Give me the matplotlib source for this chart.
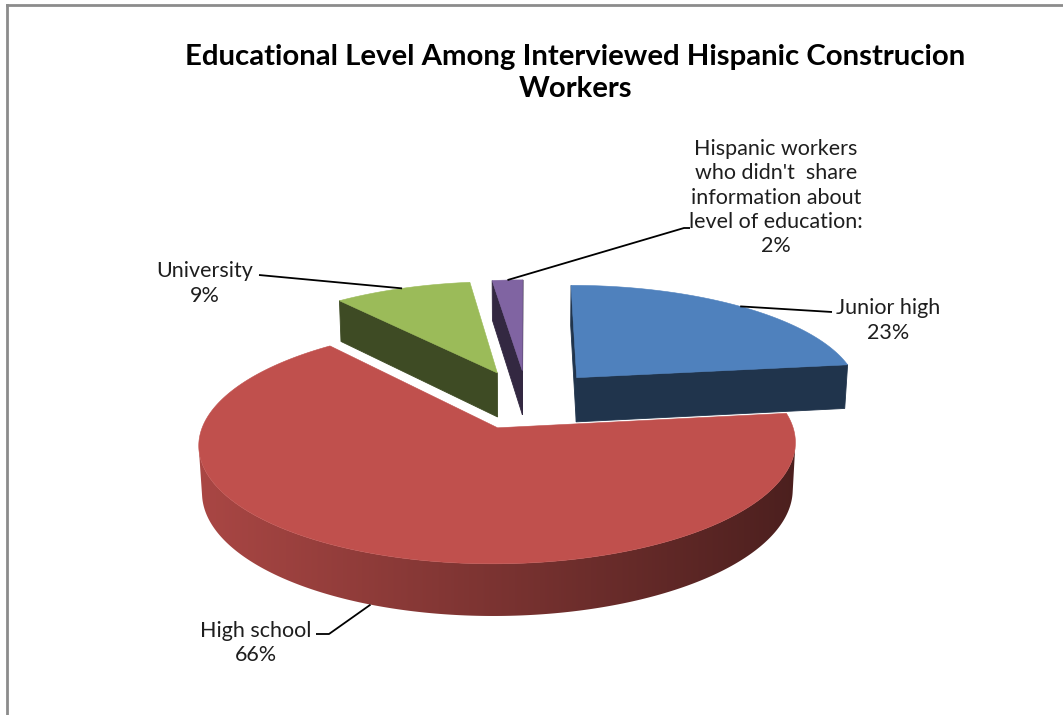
import numpy as np
import matplotlib
matplotlib.use("Agg")
import matplotlib.pyplot as plt
from matplotlib.patches import Polygon

# ---------------- data ----------------
title = "Educational Level Among Interviewed Hispanic Construcion\nWorkers"
categories = ["Junior high", "High school", "University",
              "Hispanic workers\nwho didn't  share\ninformation about\nlevel of education:"]
values = [23, 66, 9, 2]
pct_labels = ["23%", "66%", "9%", "2%"]
colors = ["#4F81BD", "#C0504D", "#9BBB59", "#8064A2"]

# ---------------- 3D view parameters (pixel space) ----------------
W, H = 1063, 715
D = 7.0                      # camera distance (pie radius = 1)
phi = np.radians(22.6)       # elevation
F = 2000.0                   # focal length in px
CX, CY = 527.0, 399.3        # screen position of pie centre
EXPLODE = 0.27
HEIGHT = 0.173
c_, s_ = np.cos(phi), np.sin(phi)
CAM = np.array([0.0, D * s_, D * c_])


def proj(X, Y, Z):
    depth = D - (Z * c_ + Y * s_)
    up = Y * c_ - Z * s_
    return CX + F * X / depth, CY - F * up / depth


def shade(col, k):
    r, g, b = matplotlib.colors.to_rgb(col)
    return (r * k, g * k, b * k)


def wall_k(sx):
    return np.clip(0.875 - (sx - 210) * 0.00082, 0.35, 0.9)


fig = plt.figure(figsize=(W / 100, H / 100), dpi=100)
ax = fig.add_axes([0, 0, 1, 1])
ax.set_xlim(0, W)
ax.set_ylim(H, 0)
ax.axis("off")

total = float(sum(values))
fracs = [v / total for v in values]
starts = np.cumsum([0] + fracs[:-1]) * 2 * np.pi
ends = starts + np.array(fracs) * 2 * np.pi

items = []   # (distance, kind, polygon pts, color)
tops = []
anchors = []
for i, (a0, a1) in enumerate(zip(starts, ends)):
    m = 0.5 * (a0 + a1)
    ox, oz = EXPLODE * np.sin(m), -EXPLODE * np.cos(m)
    th = np.linspace(a0, a1, max(4, int((a1 - a0) / 0.005)))
    rx = ox + np.sin(th)
    rz = oz - np.cos(th)
    # top face
    pts = [proj(ox, 0, oz)] + [proj(x, 0, z) for x, z in zip(rx, rz)]
    dist = np.linalg.norm(CAM - np.array([ox, 0, oz]))
    tops.append((dist, pts, colors[i]))
    # outer wall: visible part as one polygon with gradient
    vis = []
    for j in range(len(th)):
        p = np.array([rx[j], -HEIGHT / 2, rz[j]])
        nrm = np.array([np.sin(th[j]), 0, -np.cos(th[j])])
        vis.append(np.dot(nrm, CAM - p) > 0)
    idx = [j for j, v in enumerate(vis) if v]
    if len(idx) > 1:
        topp = [proj(rx[j], 0, rz[j]) for j in idx]
        botp = [proj(rx[j], -HEIGHT, rz[j]) for j in idx][::-1]
        jm = idx[len(idx) // 2]
        pm = np.array([rx[jm], -HEIGHT / 2, rz[jm]])
        items.append((np.linalg.norm(CAM - pm), "grad", topp + botp, colors[i]))
    # radial walls
    for a, sgn in ((a0, -1), (a1, 1)):
        nrm = sgn * np.array([np.cos(a), 0, np.sin(a)])
        ex, ez = ox + np.sin(a), oz - np.cos(a)
        pm = np.array([(ox + ex) / 2, -HEIGHT / 2, (oz + ez) / 2])
        if np.dot(nrm, CAM - pm) <= 0:
            continue
        q = [proj(ox, 0, oz), proj(ex, 0, ez), proj(ex, -HEIGHT, ez), proj(ox, -HEIGHT, oz)]
        items.append((np.linalg.norm(CAM - pm), "flat", q, shade(colors[i], 0.40)))
    # label anchor at rim of mid-angle
    rr = 1.0 + EXPLODE
    ax_, az_ = rr * np.sin(m), -rr * np.cos(m)
    yy = -HEIGHT if np.cos(m) < -0.5 else 0.0
    anchors.append(proj(ax_, yy, az_))

xs_cols = np.arange(W) + 0.5
for d, kind, q, col in sorted(items, key=lambda t: -t[0]):
    if kind == "flat":
        ax.add_patch(Polygon(q, closed=True, facecolor=col, edgecolor=col, lw=0.6))
    else:
        patch = Polygon(q, closed=True, facecolor="none", edgecolor="none")
        ax.add_patch(patch)
        grad = np.array([[shade(col, wall_k(x)) for x in xs_cols]])
        im = ax.imshow(grad, extent=(0, W, H, 0), origin="upper", aspect="auto",
                       interpolation="bilinear", zorder=1)
        im.set_clip_path(patch)
for d, q, col in sorted(tops, key=lambda t: -t[0]):
    ax.add_patch(Polygon(q, closed=True, facecolor=col, edgecolor=col, lw=0.4, zorder=2))

ax.set_xlim(0, W)
ax.set_ylim(H, 0)

# ---------------- text ----------------
FONT = "Lato"
TXT = "#1e1e1e"
ax.text(575.5, 73, title, ha="center", va="center", fontsize=21.2,
        fontweight="bold", family=FONT, color="#000000", linespacing=1.25, zorder=5)

label_pos = [(888.5, 320.5), (255.5, 643), (205, 283.5), (776, 197.5)]
for i, (x, y) in enumerate(label_pos):
    ax.text(x, y, categories[i] + "\n" + pct_labels[i], ha="center", va="center",
            fontsize=15.5, family=FONT, color=TXT, linespacing=1.26, zorder=5)

# leader lines (label side points, then anchor on slice)
leader_start = [[(832, 312)], [(316, 634), (329, 634)], [(259, 275)], [(690, 228), (684, 228)]]
for i, pts in enumerate(leader_start):
    xs = [p[0] for p in pts] + [anchors[i][0]]
    ys = [p[1] for p in pts] + [anchors[i][1]]
    ax.plot(xs, ys, color="#000000", lw=1.3, solid_capstyle="butt", zorder=4)

# chart frame (left and top)
ax.plot([7, 7], [5, H], color="#8c8c8c", lw=2, zorder=6)
ax.plot([7, W], [5, 5], color="#8c8c8c", lw=2, zorder=6)

fig.savefig("out.png", dpi=100)
